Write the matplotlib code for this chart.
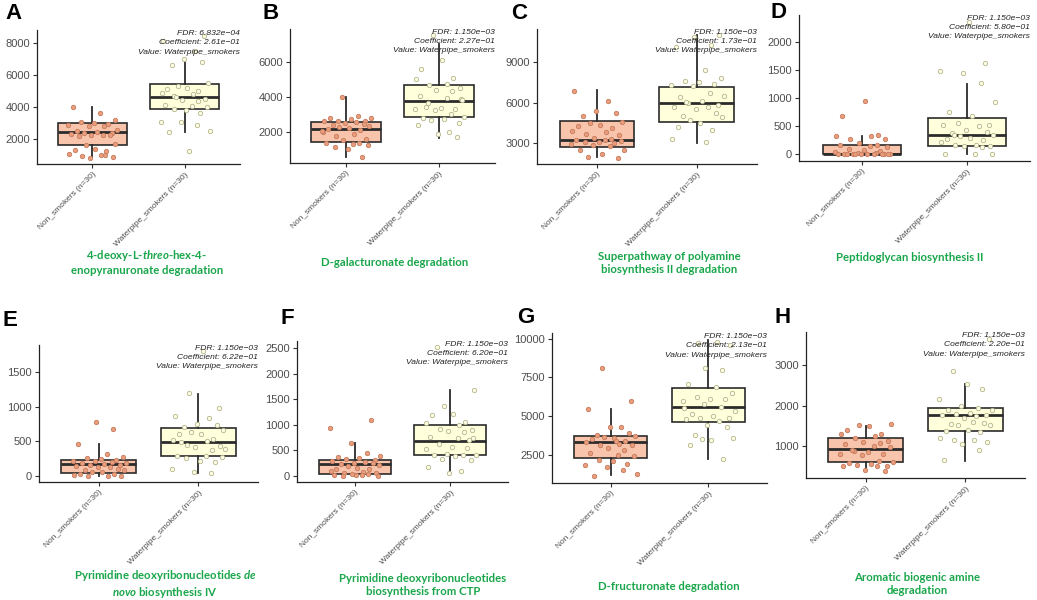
import matplotlib
matplotlib.use("Agg")
import matplotlib.pyplot as plt

plt.rcParams['font.family'] = ['Liberation Sans', 'DejaVu Sans']
plt.rcParams['mathtext.fontset'] = 'custom'
plt.rcParams['mathtext.rm'] = 'Lato:bold'
plt.rcParams['mathtext.it'] = 'Lato:italic:bold'
plt.rcParams['mathtext.bf'] = 'Lato:bold'

groups = ['Non_smokers (n=30)', 'Waterpipe_smokers (n=30)']

# box stats: whisker low, q1, median, q3, whisker high
A_box_non = [920, 1646, 2435, 2994, 4025]
A_box_wat = [2472, 3882, 4608, 5435, 6925]
B_box_non = [585, 1457, 2170, 2548, 3980]
B_box_wat = [1683, 2849, 3755, 4682, 7000]
C_box_non = [1950, 2698, 3204, 4618, 6931]
C_box_wat = [3000, 4534, 6000, 7180, 11014]
D_box_non = [0, 0, 5, 165, 325]
D_box_wat = [0, 150, 349, 650, 1255]
E_box_non = [0, 34, 164, 226, 456]
E_box_wat = [43, 288, 481, 697, 1187]
F_box_non = [0, 33, 229, 314, 641]
F_box_wat = [45, 406, 686, 994, 1680]
G_box_non = [1170, 2262, 3310, 3724, 5430]
G_box_wat = [2200, 4594, 5582, 6833, 9935]
H_box_non = [395, 607, 942, 1202, 1504]
H_box_wat = [640, 1370, 1764, 1932, 2530]

# individual samples (estimated)
A_non = [4020, 3650, 3200, 3050, 3000, 2950, 2900, 2850, 2800, 2600, 2500, 2450, 2400, 2400, 2350,
         2300, 2300, 2250, 2200, 1700, 1650, 1400, 1350, 1300, 1100, 1050, 950, 900, 850, 1000]
A_wat = [8400, 8100, 7450, 7000, 6800, 6600, 5500, 5300, 5200, 5100, 5000, 4900, 4800, 4700, 4500,
         4450, 4400, 4100, 4050, 4000, 3900, 3850, 3650, 3100, 3050, 2900, 2500, 2450, 1300, 4600]
B_non = [3980, 2900, 2800, 2780, 2750, 2650, 2600, 2600, 2550, 2500, 2450, 2400, 2350, 2300, 2200,
         2150, 2100, 2000, 1900, 1800, 1600, 1550, 1400, 1350, 1300, 1250, 1150, 1050, 600, 2050]
B_wat = [7500, 6100, 5600, 5050, 5000, 4750, 4650, 4500, 4400, 4350, 4050, 3950, 3850, 3650, 3350,
         3300, 3300, 3250, 3000, 2850, 2800, 2750, 2700, 2500, 2400, 2000, 1900, 1700, 3400, 3800]
C_non = [6900, 6150, 5400, 5250, 5000, 4600, 4500, 4350, 4300, 4100, 3900, 3800, 3700, 3600, 3400,
         3300, 3250, 3200, 3150, 3100, 3050, 3000, 2950, 2850, 2800, 2500, 2450, 2200, 1950, 1900]
C_wat = [11000, 10900, 10300, 10100, 8400, 7800, 7600, 7500, 7400, 7300, 7200, 6700, 6500, 6400, 6100,
         6000, 5800, 5700, 5650, 5500, 5200, 5000, 4900, 4700, 4500, 4200, 3950, 3300, 3100, 6050]
D_non = [960, 690, 350, 330, 320, 280, 270, 200, 170, 160, 150, 130, 100, 80, 60,
         50, 30, 20, 10, 0, 0, 0, 0, 0, 0, 0, 0, 0, 0, 0]
D_wat = [2370, 1630, 1480, 1450, 1270, 930, 760, 680, 560, 530, 520, 500, 440, 400, 380,
         340, 320, 300, 280, 250, 220, 170, 160, 150, 150, 140, 0, 0, 0, 350]
E_non = [780, 670, 460, 320, 270, 250, 240, 230, 220, 210, 200, 190, 180, 170, 160,
         150, 140, 130, 120, 100, 90, 80, 60, 50, 30, 20, 10, 0, 0, 0]
E_wat = [1800, 1190, 980, 860, 840, 750, 740, 710, 660, 630, 610, 600, 530, 510, 500,
         450, 430, 410, 370, 290, 280, 270, 250, 220, 200, 100, 60, 40, 380, 490]
F_non = [1100, 940, 640, 450, 380, 360, 340, 320, 300, 280, 260, 250, 240, 230, 200,
         180, 150, 130, 120, 100, 80, 60, 50, 40, 30, 20, 10, 0, 0, 5]
F_wat = [2520, 1680, 1370, 1220, 1200, 1060, 1040, 1000, 920, 900, 870, 860, 750, 740, 730,
         620, 560, 540, 520, 430, 410, 400, 400, 380, 320, 300, 160, 100, 60, 690]
G_non = [8100, 5950, 5450, 4300, 4300, 3900, 3800, 3700, 3650, 3600, 3500, 3400, 3300, 3200, 3150,
         3100, 2900, 2800, 2600, 2500, 2400, 2150, 2100, 1900, 1800, 1700, 1500, 1250, 1100, 3350]
G_wat = [9800, 9700, 9600, 8100, 8000, 7100, 6900, 6500, 6200, 6100, 6100, 6000, 5800, 5600, 5300,
         5100, 5000, 4900, 4850, 4800, 4700, 4400, 4300, 3800, 3600, 3500, 3450, 3100, 2200, 5500]
H_non = [1540, 1510, 1490, 1400, 1300, 1290, 1250, 1200, 1120, 1100, 1080, 1050, 1000, 970, 880,
         860, 820, 800, 780, 640, 600, 580, 560, 540, 520, 510, 500, 420, 380, 900]
H_wat = [3650, 2850, 2530, 2420, 2170, 2000, 1950, 1900, 1880, 1830, 1800, 1780, 1760, 1750, 1700,
         1580, 1550, 1520, 1510, 1400, 1380, 1350, 1200, 1150, 1150, 1100, 1060, 900, 650, 1600]

fdr = ['6.832e\u221204', '1.150e\u221203', '1.150e\u221203', '1.150e\u221203',
       '1.150e\u221203', '1.150e\u221203', '1.150e\u221203', '1.150e\u221203']
coef = ['2.61e\u221201', '2.27e\u221201', '1.73e\u221201', '5.80e\u221201',
        '6.22e\u221201', '6.20e\u221201', '2.13e\u221201', '2.20e\u221201']
yticks = [[2000, 4000, 6000, 8000], [2000, 4000, 6000], [3000, 6000, 9000],
          [0, 500, 1000, 1500, 2000], [0, 500, 1000, 1500], [0, 500, 1000, 1500, 2000, 2500],
          [2500, 5000, 7500, 10000], [1000, 2000, 3000]]
titles = ['4-deoxy-L-$\\mathit{threo}$-hex-4-\nenopyranuronate degradation',
          'D-galacturonate degradation',
          'Superpathway of polyamine\nbiosynthesis II degradation',
          'Peptidoglycan biosynthesis II',
          'Pyrimidine deoxyribonucleotides $\\mathit{de}$\n$\\mathit{novo}$ biosynthesis IV',
          'Pyrimidine deoxyribonucleotides\nbiosynthesis from CTP',
          'D-fructuronate degradation',
          'Aromatic biogenic amine\ndegradation']
letters = ['A', 'B', 'C', 'D', 'E', 'F', 'G', 'H']

boxes = [(A_box_non, A_box_wat), (B_box_non, B_box_wat), (C_box_non, C_box_wat), (D_box_non, D_box_wat),
         (E_box_non, E_box_wat), (F_box_non, F_box_wat), (G_box_non, G_box_wat), (H_box_non, H_box_wat)]
points = [(A_non, A_wat), (B_non, B_wat), (C_non, C_wat), (D_non, D_wat),
          (E_non, E_wat), (F_non, F_wat), (G_non, G_wat), (H_non, H_wat)]

# layout in pixels: axes (left, top, right, bottom), letter (x, y), title centre (x, y)
W, H = 1037, 600
ax_px = [(37, 30, 240, 164), (290, 29, 495, 163), (537, 29, 757, 164), (799, 15, 1030, 161),
         (39, 345, 258, 482), (297, 341, 508, 482), (552, 333, 767, 483), (806, 332, 1025, 478)]
letter_px = [(5, 3), (263, 3), (511, 3), (771, 2), (2, 310), (281, 308), (517, 307), (774, 307)]
title_px = [(147, 262), (395, 263), (669, 263), (910, 258),
            (165, 584), (423, 585), (669, 586), (917, 584)]

JITTER = [-0.21, 0.08, 0.24, -0.12, 0.02, 0.17, -0.26, -0.04, 0.13, 0.27, -0.17, 0.05, -0.09, 0.21, -0.23,
          0.11, -0.01, 0.19, -0.14, 0.25, -0.07, 0.03, -0.19, 0.15, -0.25, 0.09, -0.11, 0.22, -0.03, 0.14]

box_fill = ['#F8C4AC', '#FFFFDC']
pt_fill = ['#E89E7E', '#FDFDE6']
pt_edge = ['#C77C5C', '#B5B58A']
dark = '#2B2B2B'
green = '#19A64B'

fig = plt.figure(figsize=(W / 100, H / 100), dpi=100)

for i in range(8):
    l, t, r, b = ax_px[i]
    ax = fig.add_axes([l / W, 1 - b / H, (r - l) / W, (b - t) / H])
    stats = []
    for k in range(2):
        lo, q1, med, q3, hi = boxes[i][k]
        stats.append(dict(whislo=lo, q1=q1, med=med, q3=q3, whishi=hi, fliers=[]))
    bp = ax.bxp(stats, positions=[1, 2], widths=0.75, patch_artist=True, showcaps=False,
                boxprops=dict(edgecolor=dark, linewidth=1.2),
                whiskerprops=dict(color=dark, linewidth=1.3),
                medianprops=dict(color=dark, linewidth=2.0, solid_capstyle='butt'))
    for k, patch in enumerate(bp['boxes']):
        patch.set_facecolor(box_fill[k])
    allv = []
    for k in range(2):
        vals = points[i][k]
        allv += vals
        xs = [k + 1 + JITTER[(j + 7 * i + 13 * k) % 30] for j in range(len(vals))]
        ax.scatter(xs, vals, s=10, facecolor=pt_fill[k], edgecolor=pt_edge[k], linewidth=0.6, zorder=3)
    lo, hi = min(allv + [boxes[i][0][0], boxes[i][1][0]]), max(allv + [boxes[i][0][4], boxes[i][1][4]])
    pad = 0.05 * (hi - lo)
    ax.set_ylim(lo - pad, hi + pad)
    ax.set_xlim(0.4, 2.6)
    ax.set_yticks(yticks[i])
    ax.set_xticks([1, 2])
    ax.set_xticklabels(groups, rotation=45, ha='right', va='top', rotation_mode='anchor',
                       fontsize=6.0, color='#4D4D4D')
    ax.tick_params(axis='y', labelsize=8, labelcolor='#4D4D4D', length=3, width=0.8, color='#333333', pad=2)
    ax.tick_params(axis='x', length=3, width=0.8, color='#333333', pad=2)
    for s in ['top', 'right']:
        ax.spines[s].set_visible(False)
    for s in ['left', 'bottom']:
        ax.spines[s].set_linewidth(0.9)
        ax.spines[s].set_color('#222222')
    ax.text(1.0, 1.0, 'FDR: %s\nCoefficient: %s\nValue: Waterpipe_smokers' % (fdr[i], coef[i]),
            transform=ax.transAxes, ha='right', va='top', fontsize=6.1, style='italic',
            color='#222222', linespacing=1.45)
    fig.text(letter_px[i][0] / W, 1 - letter_px[i][1] / H, letters[i], ha='left', va='top',
             fontsize=16, fontweight='bold', color='black')
    fig.text(title_px[i][0] / W, 1 - title_px[i][1] / H, titles[i], ha='center', va='center',
             family=['Lato'], fontweight='bold', fontsize=8.2, color=green, linespacing=1.2,
             multialignment='center')

fig.savefig('out.png', dpi=100)
